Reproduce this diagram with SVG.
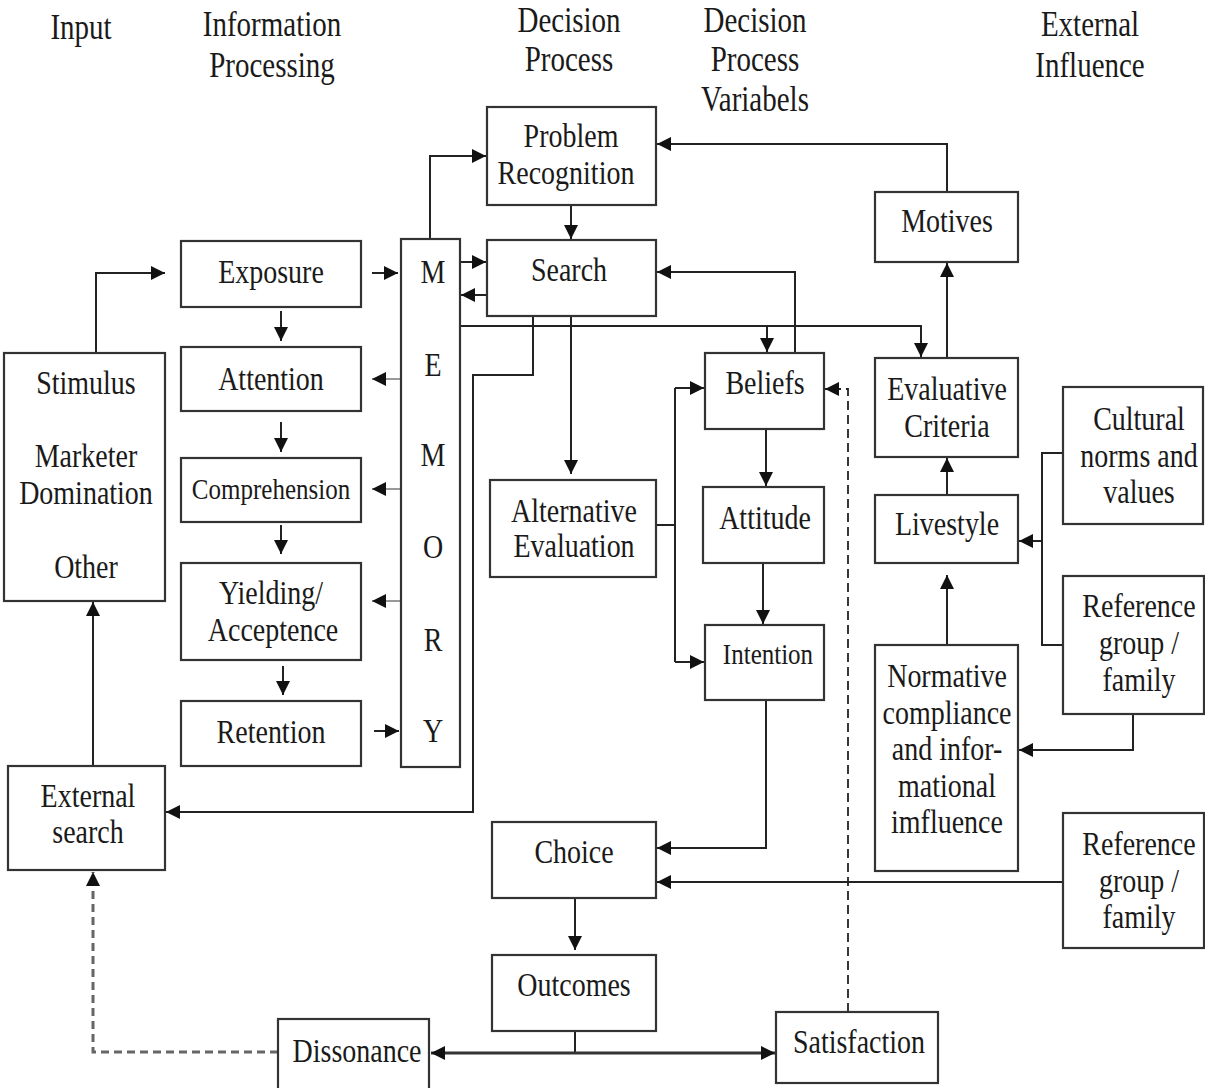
<svg xmlns="http://www.w3.org/2000/svg" width="1205" height="1088" viewBox="0 0 1205 1088">
  <style>
    .box { fill: #fff; stroke: #333; stroke-width: 2.2; }
    text { font-family: "Liberation Serif", "Times New Roman", serif; font-size: 28px; fill: #1a1a1a; text-anchor: middle; }
    .sm { font-size: 25px; }
    .hd { font-size: 29px; }
    .ln { fill: none; stroke: #222; stroke-width: 2; }
    .lt { fill: none; stroke: #777; stroke-width: 1.5; }
    .thick { fill: none; stroke: #333; stroke-width: 3; }
    .dash { fill: none; stroke: #222; stroke-width: 1.8; stroke-dasharray: 9 5; }
    .dash2 { fill: none; stroke: #666; stroke-width: 3; stroke-dasharray: 8 5; }
  </style>
  <defs>
    <marker id="ah" markerUnits="userSpaceOnUse" markerWidth="15" markerHeight="15" refX="14" refY="7" orient="auto">
      <path d="M0,0 L14,7 L0,14 z" fill="#111"/>
    </marker>
  </defs>
  <rect width="1205" height="1088" fill="#fff"/>

  <!-- column headings -->
  <g id="headings">
    <text class="hd" transform="matrix(1 0 0 1.2 81 39)">Input</text>
    <text class="hd" transform="matrix(1 0 0 1.2 272 36)">Information</text>
    <text class="hd" transform="matrix(1 0 0 1.2 272 77)">Processing</text>
    <text class="hd" transform="matrix(1 0 0 1.2 569 32)">Decision</text>
    <text class="hd" transform="matrix(1 0 0 1.2 569 71)">Process</text>
    <text class="hd" transform="matrix(1 0 0 1.2 755 32)">Decision</text>
    <text class="hd" transform="matrix(1 0 0 1.2 755 71)">Process</text>
    <text class="hd" transform="matrix(1 0 0 1.2 755 111)">Variabels</text>
    <text class="hd" transform="matrix(1 0 0 1.2 1090 36)">External</text>
    <text class="hd" transform="matrix(1 0 0 1.2 1090 77)">Influence</text>
  </g>

  <!-- connectors -->
  <g id="connectors">
    <path class="ln" d="M430,239 V156 H486" marker-end="url(#ah)"/>
    <path class="ln" d="M571,205 V239" marker-end="url(#ah)"/>
    <path class="ln" d="M460,262 H486" marker-end="url(#ah)"/>
    <path class="ln" d="M487,295 H461" marker-end="url(#ah)"/>
    <path class="ln" d="M372,273 H398" marker-end="url(#ah)"/>
    <path class="lt" d="M400,379 H372" marker-end="url(#ah)"/>
    <path class="lt" d="M400,489 H372" marker-end="url(#ah)"/>
    <path class="lt" d="M400,601 H372" marker-end="url(#ah)"/>
    <path class="ln" d="M374,731 H399" marker-end="url(#ah)"/>
    <path class="ln" d="M281,311 V341" marker-end="url(#ah)"/>
    <path class="ln" d="M281,422 V452" marker-end="url(#ah)"/>
    <path class="ln" d="M281,525 V554" marker-end="url(#ah)"/>
    <path class="ln" d="M283,666 V695" marker-end="url(#ah)"/>
    <path class="ln" d="M96,353 V273 H165" marker-end="url(#ah)"/>
    <path class="ln" d="M93,766 V602" marker-end="url(#ah)"/>
    <path class="ln" d="M533,316 V375 H473 V812 H166" marker-end="url(#ah)"/>
    <path class="ln" d="M460,326 H921 V357" marker-end="url(#ah)"/>
    <path class="ln" d="M767,326 V352" marker-end="url(#ah)"/>
    <path class="ln" d="M571,316 V474" marker-end="url(#ah)"/>
    <path class="ln" d="M795,353 V272 H657" marker-end="url(#ah)"/>
    <path class="ln" d="M947,192 V144 H657" marker-end="url(#ah)"/>
    <path class="ln" d="M947,358 V263" marker-end="url(#ah)"/>
    <path class="ln" d="M656,525 H675"/>
    <path class="ln" d="M675,388 V662"/>
    <path class="ln" d="M675,388 H704" marker-end="url(#ah)"/>
    <path class="ln" d="M675,662 H704" marker-end="url(#ah)"/>
    <path class="ln" d="M766,429 V486" marker-end="url(#ah)"/>
    <path class="ln" d="M763,563 V624" marker-end="url(#ah)"/>
    <path class="ln" d="M766,700 V848 H657" marker-end="url(#ah)"/>
    <path class="ln" d="M1063,882 H657" marker-end="url(#ah)"/>
    <path class="ln" d="M575,898 V950" marker-end="url(#ah)"/>
    <path class="ln" d="M575,1031 V1053"/>
    <path class="thick" d="M575,1053 H431" marker-end="url(#ah)"/>
    <path class="thick" d="M575,1053 H775" marker-end="url(#ah)"/>
    <path class="dash" d="M848,1012 V389 H825" marker-end="url(#ah)"/>
    <path class="dash2" d="M278,1052 H93 V872" marker-end="url(#ah)"/>
    <path class="ln" d="M1133,714 V750 H1019" marker-end="url(#ah)"/>
    <path class="ln" d="M1063,453 H1042 V645 H1063"/>
    <path class="ln" d="M1042,541 H1019" marker-end="url(#ah)"/>
    <path class="ln" d="M947,495 V458" marker-end="url(#ah)"/>
    <path class="ln" d="M947,645 V575" marker-end="url(#ah)"/>
  </g>

  <!-- nodes -->
  <g id="problem-recognition">
    <rect class="box" x="487" y="107" width="169" height="98"/>
    <text transform="matrix(1 0 0 1.2 571 147)">Problem</text>
    <text transform="matrix(1 0 0 1.2 566 184)">Recognition</text>
  </g>
  <g id="search">
    <rect class="box" x="487" y="240" width="169" height="76"/>
    <text transform="matrix(1 0 0 1.2 569 281)">Search</text>
  </g>
  <g id="memory">
    <rect class="box" x="401" y="239" width="59" height="528"/>
    <text transform="matrix(1 0 0 1.2 433 283)">M</text>
    <text transform="matrix(1 0 0 1.2 433 376)">E</text>
    <text transform="matrix(1 0 0 1.2 433 466)">M</text>
    <text transform="matrix(1 0 0 1.2 433 558)">O</text>
    <text transform="matrix(1 0 0 1.2 433 651)">R</text>
    <text transform="matrix(1 0 0 1.2 433 742)">Y</text>
  </g>
  <g id="exposure">
    <rect class="box" x="181" y="241" width="180" height="66"/>
    <text transform="matrix(1 0 0 1.2 271 283)">Exposure</text>
  </g>
  <g id="attention">
    <rect class="box" x="181" y="347" width="180" height="64"/>
    <text transform="matrix(1 0 0 1.2 271 390)">Attention</text>
  </g>
  <g id="comprehension">
    <rect class="box" x="181" y="458" width="180" height="64"/>
    <text class="sm" transform="matrix(1 0 0 1.2 271 499)">Comprehension</text>
  </g>
  <g id="yielding">
    <rect class="box" x="181" y="563" width="180" height="97"/>
    <text transform="matrix(1 0 0 1.2 271 604)">Yielding/</text>
    <text transform="matrix(1 0 0 1.2 273 641)">Acceptence</text>
  </g>
  <g id="retention">
    <rect class="box" x="181" y="701" width="180" height="65"/>
    <text transform="matrix(1 0 0 1.2 271 743)">Retention</text>
  </g>
  <g id="stimulus">
    <rect class="box" x="4" y="353" width="161" height="248"/>
    <text transform="matrix(1 0 0 1.2 86 394)">Stimulus</text>
    <text transform="matrix(1 0 0 1.2 86 467)">Marketer</text>
    <text transform="matrix(1 0 0 1.2 86 504)">Domination</text>
    <text transform="matrix(1 0 0 1.2 86 578)">Other</text>
  </g>
  <g id="external-search">
    <rect class="box" x="8" y="766" width="157" height="104"/>
    <text transform="matrix(1 0 0 1.2 88 807)">External</text>
    <text transform="matrix(1 0 0 1.2 88 843)">search</text>
  </g>
  <g id="alternative-evaluation">
    <rect class="box" x="490" y="480" width="166" height="97"/>
    <text transform="matrix(1 0 0 1.2 574 522)">Alternative</text>
    <text transform="matrix(1 0 0 1.2 574 557)">Evaluation</text>
  </g>
  <g id="choice">
    <rect class="box" x="492" y="822" width="164" height="76"/>
    <text transform="matrix(1 0 0 1.2 574 863)">Choice</text>
  </g>
  <g id="outcomes">
    <rect class="box" x="492" y="955" width="164" height="76"/>
    <text transform="matrix(1 0 0 1.2 574 996)">Outcomes</text>
  </g>
  <g id="dissonance">
    <rect class="box" x="278" y="1019" width="151" height="80"/>
    <text transform="matrix(1 0 0 1.2 357 1062)">Dissonance</text>
  </g>
  <g id="satisfaction">
    <rect class="box" x="776" y="1012" width="162" height="71"/>
    <text transform="matrix(1 0 0 1.2 859 1053)">Satisfaction</text>
  </g>
  <g id="beliefs">
    <rect class="box" x="705" y="353" width="119" height="76"/>
    <text transform="matrix(1 0 0 1.2 765 394)">Beliefs</text>
  </g>
  <g id="attitude">
    <rect class="box" x="703" y="487" width="121" height="76"/>
    <text transform="matrix(1 0 0 1.2 765 529)">Attitude</text>
  </g>
  <g id="intention">
    <rect class="box" x="705" y="625" width="119" height="75"/>
    <text class="sm" transform="matrix(1 0 0 1.2 768 664)">Intention</text>
  </g>
  <g id="motives">
    <rect class="box" x="875" y="192" width="143" height="70"/>
    <text transform="matrix(1 0 0 1.2 947 232)">Motives</text>
  </g>
  <g id="evaluative-criteria">
    <rect class="box" x="875" y="358" width="143" height="99"/>
    <text transform="matrix(1 0 0 1.2 947 400)">Evaluative</text>
    <text transform="matrix(1 0 0 1.2 947 437)">Criteria</text>
  </g>
  <g id="livestyle">
    <rect class="box" x="875" y="495" width="143" height="68"/>
    <text transform="matrix(1 0 0 1.2 947 535)">Livestyle</text>
  </g>
  <g id="normative-influence">
    <rect class="box" x="875" y="645" width="143" height="226"/>
    <text transform="matrix(1 0 0 1.2 947 687)">Normative</text>
    <text transform="matrix(1 0 0 1.2 947 724)">compliance</text>
    <text transform="matrix(1 0 0 1.2 947 760)">and infor-</text>
    <text transform="matrix(1 0 0 1.2 947 797)">mational</text>
    <text transform="matrix(1 0 0 1.2 947 833)">imfluence</text>
  </g>
  <g id="cultural-norms">
    <rect class="box" x="1063" y="387" width="140" height="137"/>
    <text transform="matrix(1 0 0 1.2 1139 430)">Cultural</text>
    <text transform="matrix(1 0 0 1.2 1139 467)">norms and</text>
    <text transform="matrix(1 0 0 1.2 1139 503)">values</text>
  </g>
  <g id="reference-group-1">
    <rect class="box" x="1063" y="576" width="141" height="138"/>
    <text transform="matrix(1 0 0 1.2 1139 617)">Reference</text>
    <text transform="matrix(1 0 0 1.2 1139 654)">group /</text>
    <text transform="matrix(1 0 0 1.2 1139 691)">family</text>
  </g>
  <g id="reference-group-2">
    <rect class="box" x="1063" y="813" width="141" height="135"/>
    <text transform="matrix(1 0 0 1.2 1139 855)">Reference</text>
    <text transform="matrix(1 0 0 1.2 1139 892)">group /</text>
    <text transform="matrix(1 0 0 1.2 1139 928)">family</text>
  </g>
</svg>
